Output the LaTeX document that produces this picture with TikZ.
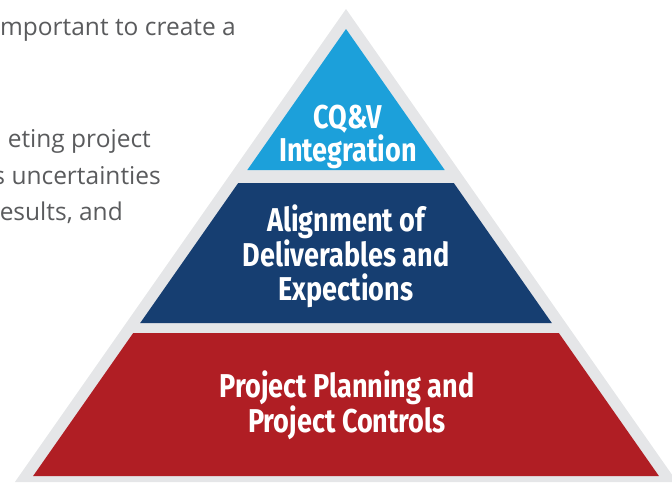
\documentclass[tikz,border=0pt]{standalone}
\usepackage{fontspec}
\setmainfont{Open Sans}
\newfontfamily\tierfont[FakeStretch=0.82]{Fira Sans}

\definecolor{rim}{HTML}{E5E6E8}
\definecolor{tierblue}{HTML}{1CA0DA}
\definecolor{tiernavy}{HTML}{163E71}
\definecolor{tierred}{HTML}{B01E24}
\definecolor{bodygray}{HTML}{5A5B5D}

\tikzset{
  tierlabel/.style={text=white, align=center, inner sep=0pt,
    font=\tierfont\bfseries\fontsize{33}{33.5}\selectfont},
  bodytext/.style={text=bodygray, inner sep=0pt, anchor=base east,
    font=\fontsize{24.5}{29}\selectfont},
}

\begin{document}
\begin{tikzpicture}[x=1pt, y=-1pt]
  \useasboundingbox (0,0) rectangle (672,482);

  % paragraph text beside the pyramid
  \node[bodytext] (p1) at (236,35) {mportant to create a};
  \node[bodytext] (p2) at (151,147) {eting project};
  \node[bodytext] (p3) at (161,184) {s uncertainties};
  \node[bodytext] (p4) at (123,220) {esults, and};

  % grey rim of the pyramid
  \fill[rim] (346,9) -- (677.1,482) -- (14.9,482) -- cycle;

  % the three tiers
  \fill[tierblue] (346,29) -- (444.7,170) -- (247.3,170) -- cycle;
  \fill[tiernavy] (238.2,183) -- (453.8,183) -- (551.8,323) -- (140.2,323) -- cycle;
  \fill[tierred] (133.2,333) -- (558.8,333) -- (658.9,476) -- (33.1,476) -- cycle;

  % tier labels
  \node[tierlabel] (top) at (348,137) {CQ\&V\\Integration};
  \node[tierlabel] (mid) at (346,256) {Alignment of\\Deliverables and\\Expections};
  \node[tierlabel] (base) at (347,405) {Project Planning and\\Project Controls};
\end{tikzpicture}
\end{document}
